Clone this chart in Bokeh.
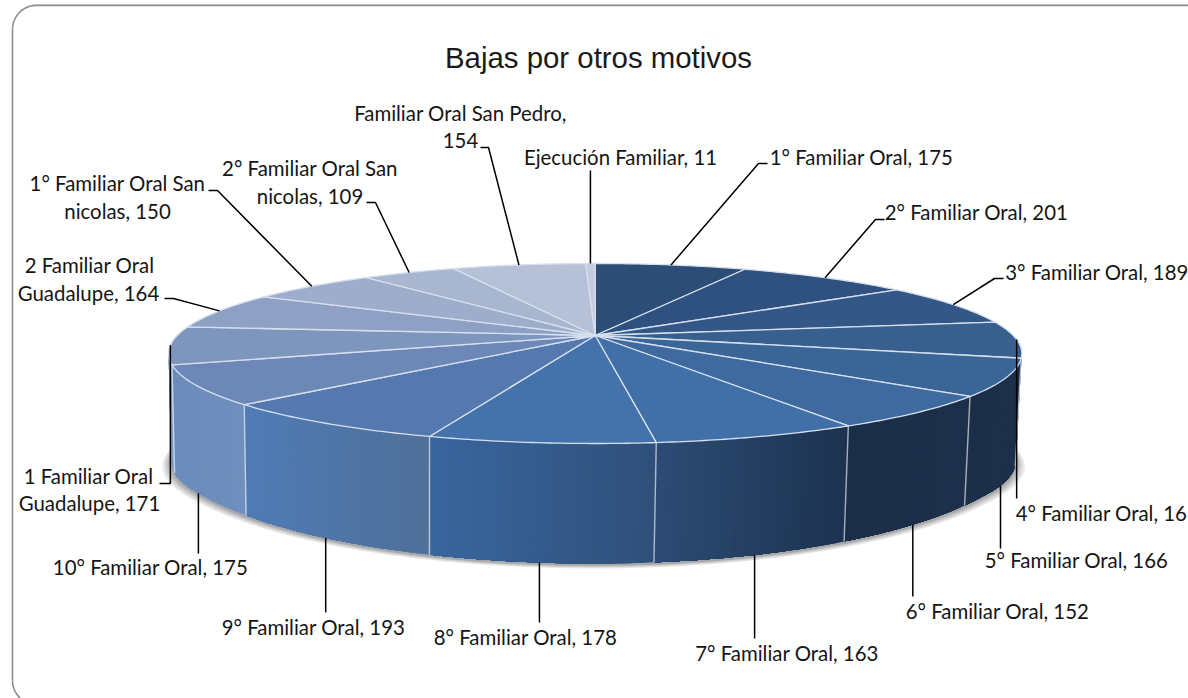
import math
import numpy as np
from bokeh.embed import file_html
from bokeh.models import ColumnDataSource
from bokeh.plotting import figure
from bokeh.resources import INLINE
from bokeh.core.properties import value

TITLE = "Bajas por otros motivos"

# ---- data, clockwise from twelve o'clock ----
SLICES = ["1° Familiar Oral", "2° Familiar Oral", "3° Familiar Oral", "4° Familiar Oral",
          "5° Familiar Oral", "6° Familiar Oral", "7° Familiar Oral", "8° Familiar Oral",
          "9° Familiar Oral", "10° Familiar Oral", "1 Familiar Oral Guadalupe",
          "2 Familiar Oral Guadalupe", "1° Familiar Oral San nicolas",
          "2° Familiar Oral San nicolas", "Familiar Oral San Pedro", "Ejecución Familiar"]
VALUES = [175, 201, 189, 165, 166, 152, 163, 178, 193, 175, 171, 164, 150, 109, 154, 11]

# ---- styles ----
TOP_COLORS = ["#2C4D75", "#2F5180", "#335887", "#37608F", "#3A6597", "#3E6A9F", "#4170A8", "#4472AA",
              "#5579AE", "#6D88B6", "#7E96BE", "#8EA1C4", "#9DADCB", "#A9B6D0", "#B6C0D6", "#C4CCDD"]
SIDE_LEFT = ["#1C3049", "#1C3049", "#1C3049", "#1C3049", "#1B2F48", "#1B2E48", "#2C4B74", "#3A669F",
             "#4F7BB5", "#6B8CBB", "#7E9AC4", "#8EA1C4", "#9DADCB", "#A9B6D0", "#B6C0D6", "#C4CCDD"]
SIDE_RIGHT = ["#1C3049", "#1C3049", "#1C3049", "#1C3049", "#1C3049", "#1C304B", "#1D3350", "#2F5079",
              "#4F7099", "#6F8FBE", "#7E9AC4", "#8EA1C4", "#9DADCB", "#A9B6D0", "#B6C0D6", "#C4CCDD"]

# ---- label layout (text lines, centres in page pixels) ----
LABEL_TEXT = ["Familiar Oral San Pedro,", "154", "Ejecución Familiar, 11", "1° Familiar Oral, 175",
              "2° Familiar Oral San", "nicolas, 109", "1° Familiar Oral San", "nicolas, 150",
              "2° Familiar Oral, 201", "2 Familiar Oral", "Guadalupe, 164", "3° Familiar Oral, 189",
              "1 Familiar Oral", "Guadalupe, 171", "4° Familiar Oral, 16", "10° Familiar Oral, 175",
              "5° Familiar Oral, 166", "6° Familiar Oral, 152", "9° Familiar Oral, 193",
              "8° Familiar Oral, 178", "7° Familiar Oral, 163"]
LABEL_X = [460, 460, 620, 861, 309.5, 309.5, 117, 117, 976, 89, 88, 1096.5, 88, 89, 1101, 150, 1076, 997, 313, 525, 786.5]
LABEL_Y = [112, 140, 156, 156, 167.5, 195, 182, 210, 211, 264, 292, 271, 475, 502, 512, 566, 559, 610, 626, 636, 652]

# leader routes after the rim point: per slice, list of (x, y); x None keeps the rim x
LEADERS = [[(758, 163), (767, 163)], [(875, 219), (884, 219)], [(994, 278), (1003, 278)], [(None, 498)],
           [(None, 548)], [(None, 596)], [(None, 638)], [(None, 622)], [(None, 612)], [(None, 553)],
           [(None, 483), (159, 483)], [(173, 298), (164, 298)], [(217, 190), (208, 190)],
           [(375, 202), (366, 202)], [(488, 147), (480, 147)], [(None, 170)]]
LEADER_ON_TOP = [True, True, True, True, False, False, False, False, False, False, True, True, True, True, True, True]

# ---- perspective projection of the disc ----
CX, CY, RX, PERSP, TILT = 594.7, 335.0, 418.0, 0.2, 19.4
BOTTOM_CX, BOTTOM_SCALE = 593.0, 0.99


def top_rim(theta):
    s = np.cos(theta)
    d = 1 + PERSP * s
    return CX + RX * np.sin(theta) / d, (CY - TILT * s) / d


def bottom_rim(theta):
    x, y = top_rim(theta)
    s = np.cos(theta)
    t = np.clip((-s - 0.55) / 0.45, 0, 1)
    return BOTTOM_CX + (x - CX) * BOTTOM_SCALE, y + 108 + 12 * t ** 1.3


def hex_rgb(c):
    return np.array([int(c[i:i + 2], 16) for i in (1, 3, 5)], dtype=float)


def mix(a, b, f):
    v = hex_rgb(a) * (1 - f) + hex_rgb(b) * f
    return "#%02x%02x%02x" % tuple(int(round(u)) for u in v)


p = figure(width=1188, height=698, x_range=(0, 1188), y_range=(698, 0), output_backend="svg",
           toolbar_location=None, min_border=0, outline_line_color=None, background_fill_color="white",
           border_fill_color="white")
p.axis.visible = False
p.grid.visible = False

# rounded frame, running off the right and bottom of the picture
fx0, fy0, fr, fx1, fy1 = 12.0, 5.0, 24.0, 1240.0, 704.0
ang = np.linspace(0, math.pi / 2, 24)
frame_x = list(fx0 + fr - fr * np.cos(ang)) + [fx1]
frame_y = list(fy0 + fr - fr * np.sin(ang)) + [fy0]
frame_x2 = [fx0 + fr] + list(fx0 + fr - fr * np.sin(ang))
frame_y2 = [fy1] + list(fy1 - fr + fr * np.cos(ang))
p.line(frame_x, [v - 0.8 for v in frame_y], line_color="#CFCFCF", line_width=1.2)
p.line(frame_x, frame_y, line_color="#8C8C8C", line_width=1.4)
p.line([fx0, fx0], [fy0 + fr, fy1 - fr], line_color="#8C8C8C", line_width=1.6)
p.line(frame_x2, frame_y2, line_color="#8C8C8C", line_width=1.6)

# cumulative angles from the values
total = float(sum(VALUES))
edges = np.cumsum([0.0] + VALUES) / total * 2 * math.pi

# soft shadow round the lower rim
arc = np.radians(np.linspace(80, 280, 160))
bx, by = bottom_rim(arc)
for e, d in [(9, 5), (7, 4.2), (5, 3.4), (3.5, 2.6), (2, 2)]:
    p.patch(BOTTOM_CX + (bx - BOTTOM_CX) * (1 + e / 422), by + d, fill_color="#303030", fill_alpha=0.09, line_color=None)
p.line(bx, by + 1.4, line_color="#A6A8AB", line_width=1.6)

# side wall: thin strips so the colour can run across each slice (each overlaps the next one)
WALL_LIMIT = -0.19   # beyond this the wall is hidden behind the top face
sx, sy, sc = [], [], []
for i in range(len(VALUES)):
    th = np.linspace(edges[i], edges[i + 1], max(2, int((edges[i + 1] - edges[i]) / math.radians(1.0)) + 1))
    th = th[np.cos(th) < WALL_LIMIT]
    if len(th) < 2:
        continue
    xt, yt = top_rim(th)
    xb, yb = bottom_rim(th)
    lo, hi = xb.min(), xb.max()
    for j in range(len(th) - 1):
        f = ((xb[j] + xb[j + 1]) / 2 - lo) / max(hi - lo, 1)
        sx.append(list(xt[j:]) + list(xb[j:][::-1]))
        sy.append(list(yt[j:]) + list(yb[j:][::-1]))
        sc.append(mix(SIDE_LEFT[i], SIDE_RIGHT[i], f))
p.patches(sx, sy, fill_color=sc, line_color=None)

# separators on the wall
for e in edges[1:]:
    if math.cos(e) < WALL_LIMIT:
        xt, yt = top_rim(e)
        xb, yb = bottom_rim(e)
        p.line([xt, xb], [yt, yb], line_color="#FFFFFF", line_alpha=0.62, line_width=1.4)

# top face
wx, wy = [], []
for i in range(len(VALUES)):
    th = np.linspace(edges[i], edges[i + 1], 40)
    xt, yt = top_rim(th)
    wx.append([CX] + list(xt))
    wy.append([CY] + list(yt))
p.patches(wx, wy, fill_color=TOP_COLORS, line_color="#D5DFEE", line_width=1.3, line_join="round")

# leaders
for i, route in enumerate(LEADERS):
    mid = (edges[i] + edges[i + 1]) / 2
    x0, y0 = top_rim(mid) if LEADER_ON_TOP[i] else bottom_rim(mid)
    xs = [x0] + [x0 if r[0] is None else r[0] for r in route]
    ys = [y0] + [r[1] for r in route]
    p.line(xs, ys, line_color="#000000", line_width=1.5)

# labels
src = ColumnDataSource(dict(x=LABEL_X, y=LABEL_Y, t=LABEL_TEXT))
p.text("x", "y", text="t", source=src, text_font=value("Lato"), text_font_size="20.4px",
       text_color="#151515", text_align="center", text_baseline="middle")
p.text([598], [56.5], text=[TITLE], text_font=value("Liberation Sans"), text_font_size="29.4px",
       text_color="#1a1a1a", text_align="center", text_baseline="middle")

open("out.html", "w").write(file_html(p, INLINE))
